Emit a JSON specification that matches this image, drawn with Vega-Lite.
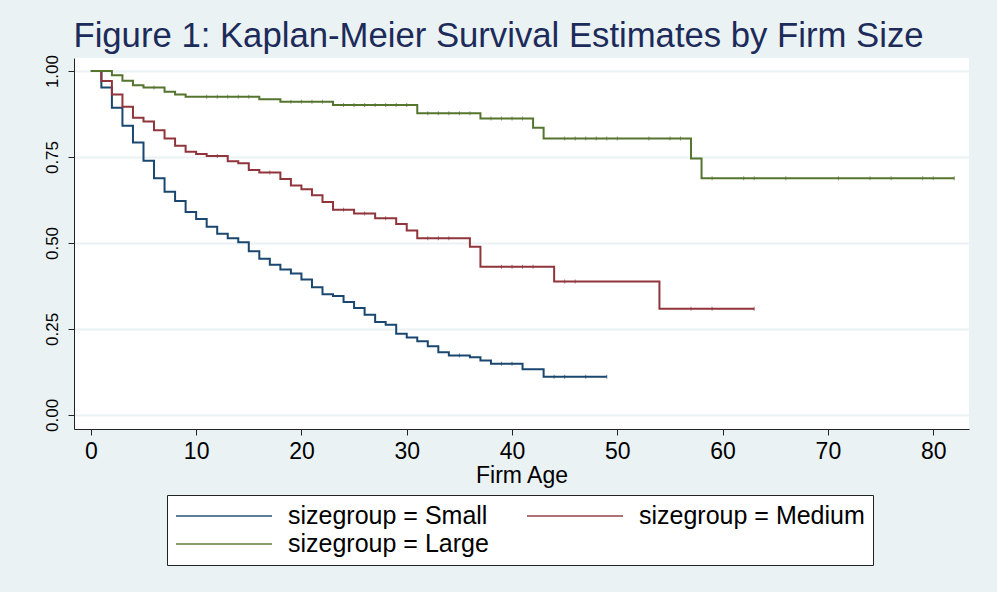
{
  "$schema": "https://vega.github.io/schema/vega-lite/v6.json",
  "autosize": "none",
  "width": 895,
  "height": 371,
  "padding": {"left": 74, "top": 58, "right": 28, "bottom": 163},
  "background": "#eaf2f3",
  "title": {
    "text": "Figure 1: Kaplan-Meier Survival Estimates by Firm Size",
    "font": "Liberation Sans",
    "fontSize": 34.7,
    "fontWeight": "normal",
    "color": "#1c2b5a",
    "anchor": "middle",
    "frame": "group",
    "baseline": "alphabetic",
    "offset": 11,
    "dx": -23,
    "dy": 38
  },
  "datasets": {
    "km": [
      {"group": "Small", "t": 0, "s": 1.0},
      {"group": "Small", "t": 1, "s": 0.952},
      {"group": "Small", "t": 2, "s": 0.893},
      {"group": "Small", "t": 3, "s": 0.841},
      {"group": "Small", "t": 4, "s": 0.792},
      {"group": "Small", "t": 5, "s": 0.739},
      {"group": "Small", "t": 6, "s": 0.688},
      {"group": "Small", "t": 7, "s": 0.649},
      {"group": "Small", "t": 8, "s": 0.622},
      {"group": "Small", "t": 9, "s": 0.590},
      {"group": "Small", "t": 10, "s": 0.570},
      {"group": "Small", "t": 11, "s": 0.547},
      {"group": "Small", "t": 12, "s": 0.527},
      {"group": "Small", "t": 13, "s": 0.514},
      {"group": "Small", "t": 14, "s": 0.502},
      {"group": "Small", "t": 15, "s": 0.476},
      {"group": "Small", "t": 16, "s": 0.454},
      {"group": "Small", "t": 17, "s": 0.437},
      {"group": "Small", "t": 18, "s": 0.423},
      {"group": "Small", "t": 19, "s": 0.411},
      {"group": "Small", "t": 20, "s": 0.394},
      {"group": "Small", "t": 21, "s": 0.371},
      {"group": "Small", "t": 22, "s": 0.351},
      {"group": "Small", "t": 23, "s": 0.346},
      {"group": "Small", "t": 24, "s": 0.328},
      {"group": "Small", "t": 25, "s": 0.311},
      {"group": "Small", "t": 26, "s": 0.291},
      {"group": "Small", "t": 27, "s": 0.270},
      {"group": "Small", "t": 28, "s": 0.262},
      {"group": "Small", "t": 29, "s": 0.236},
      {"group": "Small", "t": 30, "s": 0.225},
      {"group": "Small", "t": 31, "s": 0.214},
      {"group": "Small", "t": 32, "s": 0.200},
      {"group": "Small", "t": 33, "s": 0.182},
      {"group": "Small", "t": 34, "s": 0.173},
      {"group": "Small", "t": 36, "s": 0.168},
      {"group": "Small", "t": 37, "s": 0.158},
      {"group": "Small", "t": 38, "s": 0.149},
      {"group": "Small", "t": 41, "s": 0.133},
      {"group": "Small", "t": 43, "s": 0.111},
      {"group": "Small", "t": 49, "s": 0.111},
      {"group": "Medium", "t": 0, "s": 1.0},
      {"group": "Medium", "t": 1, "s": 0.971},
      {"group": "Medium", "t": 2, "s": 0.932},
      {"group": "Medium", "t": 3, "s": 0.896},
      {"group": "Medium", "t": 4, "s": 0.864},
      {"group": "Medium", "t": 5, "s": 0.853},
      {"group": "Medium", "t": 6, "s": 0.828},
      {"group": "Medium", "t": 7, "s": 0.804},
      {"group": "Medium", "t": 8, "s": 0.783},
      {"group": "Medium", "t": 9, "s": 0.765},
      {"group": "Medium", "t": 10, "s": 0.759},
      {"group": "Medium", "t": 11, "s": 0.753},
      {"group": "Medium", "t": 13, "s": 0.738},
      {"group": "Medium", "t": 14, "s": 0.732},
      {"group": "Medium", "t": 15, "s": 0.712},
      {"group": "Medium", "t": 16, "s": 0.705},
      {"group": "Medium", "t": 18, "s": 0.686},
      {"group": "Medium", "t": 19, "s": 0.667},
      {"group": "Medium", "t": 20, "s": 0.656},
      {"group": "Medium", "t": 21, "s": 0.639},
      {"group": "Medium", "t": 22, "s": 0.619},
      {"group": "Medium", "t": 23, "s": 0.597},
      {"group": "Medium", "t": 25, "s": 0.586},
      {"group": "Medium", "t": 27, "s": 0.572},
      {"group": "Medium", "t": 29, "s": 0.555},
      {"group": "Medium", "t": 30, "s": 0.536},
      {"group": "Medium", "t": 31, "s": 0.514},
      {"group": "Medium", "t": 36, "s": 0.489},
      {"group": "Medium", "t": 37, "s": 0.431},
      {"group": "Medium", "t": 44, "s": 0.388},
      {"group": "Medium", "t": 54, "s": 0.309},
      {"group": "Medium", "t": 63, "s": 0.309},
      {"group": "Large", "t": 0, "s": 1.0},
      {"group": "Large", "t": 2, "s": 0.988},
      {"group": "Large", "t": 3, "s": 0.972},
      {"group": "Large", "t": 4, "s": 0.959},
      {"group": "Large", "t": 5, "s": 0.952},
      {"group": "Large", "t": 7, "s": 0.940},
      {"group": "Large", "t": 8, "s": 0.932},
      {"group": "Large", "t": 9, "s": 0.925},
      {"group": "Large", "t": 16, "s": 0.918},
      {"group": "Large", "t": 18, "s": 0.911},
      {"group": "Large", "t": 23, "s": 0.901},
      {"group": "Large", "t": 31, "s": 0.877},
      {"group": "Large", "t": 37, "s": 0.862},
      {"group": "Large", "t": 42, "s": 0.835},
      {"group": "Large", "t": 43, "s": 0.804},
      {"group": "Large", "t": 57, "s": 0.746},
      {"group": "Large", "t": 58, "s": 0.688},
      {"group": "Large", "t": 82, "s": 0.688}
    ],
    "censor": [
      {"group": "Small", "t": 35, "s": 0.173},
      {"group": "Small", "t": 39, "s": 0.149},
      {"group": "Small", "t": 40, "s": 0.149},
      {"group": "Small", "t": 44, "s": 0.111},
      {"group": "Small", "t": 45, "s": 0.111},
      {"group": "Small", "t": 47, "s": 0.111},
      {"group": "Small", "t": 49, "s": 0.111},
      {"group": "Medium", "t": 12, "s": 0.753},
      {"group": "Medium", "t": 17, "s": 0.705},
      {"group": "Medium", "t": 24, "s": 0.597},
      {"group": "Medium", "t": 26, "s": 0.586},
      {"group": "Medium", "t": 28, "s": 0.572},
      {"group": "Medium", "t": 32, "s": 0.514},
      {"group": "Medium", "t": 33, "s": 0.514},
      {"group": "Medium", "t": 34, "s": 0.514},
      {"group": "Medium", "t": 39, "s": 0.431},
      {"group": "Medium", "t": 40, "s": 0.431},
      {"group": "Medium", "t": 41, "s": 0.431},
      {"group": "Medium", "t": 42, "s": 0.431},
      {"group": "Medium", "t": 45, "s": 0.388},
      {"group": "Medium", "t": 46, "s": 0.388},
      {"group": "Medium", "t": 57, "s": 0.309},
      {"group": "Medium", "t": 59, "s": 0.309},
      {"group": "Medium", "t": 63, "s": 0.309},
      {"group": "Large", "t": 6, "s": 0.952},
      {"group": "Large", "t": 11, "s": 0.925},
      {"group": "Large", "t": 12, "s": 0.925},
      {"group": "Large", "t": 13, "s": 0.925},
      {"group": "Large", "t": 14, "s": 0.925},
      {"group": "Large", "t": 15, "s": 0.925},
      {"group": "Large", "t": 19, "s": 0.911},
      {"group": "Large", "t": 20, "s": 0.911},
      {"group": "Large", "t": 21, "s": 0.911},
      {"group": "Large", "t": 22, "s": 0.911},
      {"group": "Large", "t": 24, "s": 0.901},
      {"group": "Large", "t": 25, "s": 0.901},
      {"group": "Large", "t": 26, "s": 0.901},
      {"group": "Large", "t": 27, "s": 0.901},
      {"group": "Large", "t": 28, "s": 0.901},
      {"group": "Large", "t": 29, "s": 0.901},
      {"group": "Large", "t": 30, "s": 0.901},
      {"group": "Large", "t": 32, "s": 0.877},
      {"group": "Large", "t": 33, "s": 0.877},
      {"group": "Large", "t": 34, "s": 0.877},
      {"group": "Large", "t": 35, "s": 0.877},
      {"group": "Large", "t": 36, "s": 0.877},
      {"group": "Large", "t": 38, "s": 0.862},
      {"group": "Large", "t": 39, "s": 0.862},
      {"group": "Large", "t": 40, "s": 0.862},
      {"group": "Large", "t": 41, "s": 0.862},
      {"group": "Large", "t": 45, "s": 0.804},
      {"group": "Large", "t": 46, "s": 0.804},
      {"group": "Large", "t": 47, "s": 0.804},
      {"group": "Large", "t": 48, "s": 0.804},
      {"group": "Large", "t": 49, "s": 0.804},
      {"group": "Large", "t": 50, "s": 0.804},
      {"group": "Large", "t": 53, "s": 0.804},
      {"group": "Large", "t": 55, "s": 0.804},
      {"group": "Large", "t": 56, "s": 0.804},
      {"group": "Large", "t": 59, "s": 0.688},
      {"group": "Large", "t": 62, "s": 0.688},
      {"group": "Large", "t": 63, "s": 0.688},
      {"group": "Large", "t": 66, "s": 0.688},
      {"group": "Large", "t": 71, "s": 0.688},
      {"group": "Large", "t": 74, "s": 0.688},
      {"group": "Large", "t": 76, "s": 0.688},
      {"group": "Large", "t": 79, "s": 0.688},
      {"group": "Large", "t": 80, "s": 0.688},
      {"group": "Large", "t": 82, "s": 0.688}
    ]
  },
  "encoding": {
    "x": {
      "field": "t",
      "type": "quantitative",
      "scale": {"domain": [-1.6, 83.4], "nice": false, "zero": false},
      "axis": {
        "title": "Firm Age",
        "values": [0, 10, 20, 30, 40, 50, 60, 70, 80],
        "grid": false,
        "tickSize": 6,
        "labelPadding": 5,
        "titlePadding": 1
      }
    },
    "y": {
      "field": "s",
      "type": "quantitative",
      "scale": {"domain": [-0.041, 1.038], "nice": false, "zero": false},
      "axis": {
        "title": null,
        "values": [0, 0.25, 0.5, 0.75, 1],
        "format": ".2f",
        "grid": true,
        "gridColor": "#eaf2f3",
        "gridWidth": 2,
        "tickSize": 6,
        "labelAngle": 270,
        "labelFontSize": 17,
        "labelPadding": 7
      }
    },
    "color": {
      "field": "group",
      "type": "nominal",
      "scale": {"domain": ["Small", "Medium", "Large"], "range": ["#1a476f", "#90353b", "#55752f"]},
      "legend": {
        "title": null,
        "labelExpr": "'sizegroup = ' + datum.label",
        "orient": "none",
        "legendX": 93,
        "legendY": 437,
        "direction": "horizontal",
        "columns": 2,
        "symbolType": "M-1,0H7",
        "symbolSize": 576,
        "symbolStrokeWidth": 2,
        "symbolFillColor": "transparent",
        "labelOffset": 87,
        "labelFontSize": 25,
        "columnPadding": 34,
        "rowPadding": 2,
        "padding": 8,
        "strokeColor": "#222222",
        "fillColor": "white",
        "labelLimit": 0
      }
    }
  },
  "layer": [
    {
      "data": {"name": "km"},
      "mark": {"type": "line", "interpolate": "step-after", "strokeWidth": 2}
    },
    {
      "data": {"name": "censor"},
      "mark": {"type": "tick", "orient": "vertical", "size": 4, "thickness": 1}
    }
  ],
  "config": {
    "font": "Liberation Sans",
    "view": {"fill": "white", "stroke": null},
    "axis": {
      "domainColor": "#222222",
      "domainWidth": 1,
      "tickColor": "#222222",
      "labelColor": "#000000",
      "titleColor": "#000000",
      "labelFont": "Liberation Sans",
      "titleFont": "Liberation Sans",
      "labelFontSize": 23,
      "titleFontSize": 23,
      "titleFontWeight": "normal"
    },
    "legend": {
      "labelFont": "Liberation Sans",
      "labelColor": "#000000"
    }
  }
}
